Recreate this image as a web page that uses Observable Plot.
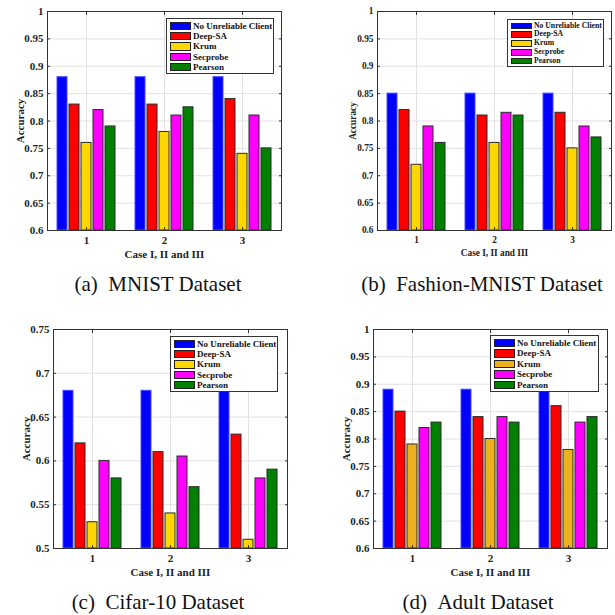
<!DOCTYPE html>
<html>
<head>
<meta charset="utf-8">
<script src="https://cdn.jsdelivr.net/npm/d3@7"></script>
<script src="https://cdn.jsdelivr.net/npm/@observablehq/plot@0.6"></script>
<style>
  html, body { margin: 0; padding: 0; background: #fff; }
  #root { position: relative; width: 615px; height: 615px; background: #fff; overflow: hidden; }
  .panel { position: absolute; }
  .legend { position: absolute; box-sizing: border-box; border: 1px solid #333; background: #fff;
            font-family: "Liberation Serif", "Times New Roman", serif; font-weight: bold; color: #111; }
  .legend .row { display: flex; align-items: center; }
  .legend .sw { box-sizing: border-box; border: 1px solid #222; flex: none; }
  .caption { position: absolute; width: 300px; text-align: center; white-space: pre;
             font-family: "Liberation Serif", "Times New Roman", serif; color: #111; }
</style>
</head>
<body>
<div id="root"></div>
<script>
// ---- data ----
const cases = [1, 2, 3];
const series = ["No Unreliable Client", "Deep-SA", "Krum", "Secprobe", "Pearson"];
const colorsDefault = ["#0000ff", "#ff0000", "#ffd700", "#ff00ff", "#008000"];
const colorsAdult = ["#0000ff", "#ff0000", "#edb120", "#ff00ff", "#008000"];

// rows follow `series`, columns follow `cases`
const mnistAcc = [
  [0.88, 0.88, 0.88],
  [0.83, 0.83, 0.84],
  [0.76, 0.78, 0.74],
  [0.82, 0.81, 0.81],
  [0.79, 0.825, 0.75]
];
const fashionAcc = [
  [0.85, 0.85, 0.85],
  [0.82, 0.81, 0.815],
  [0.72, 0.76, 0.75],
  [0.79, 0.815, 0.79],
  [0.76, 0.81, 0.77]
];
const cifarAcc = [
  [0.68, 0.68, 0.68],
  [0.62, 0.61, 0.63],
  [0.53, 0.54, 0.51],
  [0.60, 0.605, 0.58],
  [0.58, 0.57, 0.59]
];
const adultAcc = [
  [0.89, 0.89, 0.89],
  [0.85, 0.84, 0.86],
  [0.79, 0.80, 0.78],
  [0.82, 0.84, 0.83],
  [0.83, 0.83, 0.84]
];
const yTicksHigh = [0.6, 0.65, 0.7, 0.75, 0.8, 0.85, 0.9, 0.95, 1];
const yTicksLow = [0.5, 0.55, 0.6, 0.65, 0.7, 0.75];
const xTitle = "Case I, II and III";
const yTitle = "Accuracy";
const captions = ["(a)\u2002MNIST Dataset", "(b)\u2002Fashion-MNIST Dataset", "(c)\u2002Cifar-10 Dataset", "(d)\u2002Adult Dataset"];

function toRows(matrix) {
  const rows = [];
  series.forEach((s, i) => cases.forEach((c, j) => rows.push({series: s, case: c, value: matrix[i][j]})));
  return rows;
}

const root = document.getElementById("root");

function panel(cfg) {
  const data = toRows(cfg.values);
  const ymin = cfg.ticks[0], ymax = cfg.ticks[cfg.ticks.length - 1];
  const grid = "#e2e2e2";
  const chart = Plot.plot({
    width: cfg.width, height: cfg.height,
    marginLeft: cfg.ml, marginRight: cfg.mr, marginTop: cfg.mt, marginBottom: cfg.mb,
    style: {fontFamily: "'Liberation Serif', 'Times New Roman', serif", fontWeight: "bold", color: "#222", background: "transparent"},
    fx: {domain: cases, padding: 0},
    x: {domain: series, paddingInner: 0.17, paddingOuter: 0.83, axis: null},
    y: {domain: [ymin, ymax]},
    color: {domain: series, range: cfg.colors},
    marks: [
      Plot.gridY(cfg.ticks, {stroke: grid, strokeOpacity: 1}),
      Plot.gridFx({stroke: grid, strokeOpacity: 1}),
      Plot.barY(data, {fx: "case", x: "series", y1: ymin, y2: "value", fill: "series",
        stroke: d => d.series === series[0] ? "#4a4aff" : "#2a2a2a", strokeWidth: 1}),
      Plot.axisY(cfg.ticks, {anchor: "left", tickSize: 0, tickPadding: 4, fontSize: cfg.tickFont,
        tickFormat: d => String(d), label: yTitle, labelAnchor: "center", labelArrow: "none", labelOffset: cfg.yLabelOffset}),
      Plot.axisY(cfg.ticks, {anchor: "left", tickSize: -3, tickFormat: () => "", label: null, stroke: "#333"}),
      Plot.axisY(cfg.ticks, {anchor: "right", tickSize: -3, tickFormat: () => "", label: null, stroke: "#333"}),
      Plot.axisFx({anchor: "bottom", tickSize: 0, tickPadding: 6, fontSize: cfg.tickFont,
        label: xTitle, labelAnchor: "center", labelArrow: "none", labelOffset: cfg.xLabelOffset}),
      Plot.axisFx({anchor: "bottom", tickSize: -3, tickFormat: () => "", label: null, stroke: "#333"}),
      Plot.axisFx({anchor: "top", tickSize: -3, tickFormat: () => "", label: null, stroke: "#333"}),
      Plot.frame({facet: "super", stroke: "#333", strokeWidth: 1})
    ]
  });
  chart.querySelectorAll("[aria-label$='label'] text, [aria-label$='label']").forEach(el => {
    el.setAttribute("font-size", cfg.labelFont);
  });
  const wrap = document.createElement("div");
  wrap.className = "panel";
  wrap.style.left = cfg.left + "px";
  wrap.style.top = cfg.top + "px";
  wrap.appendChild(chart);
  root.appendChild(wrap);

  // legend
  const lg = document.createElement("div");
  lg.className = "legend";
  Object.assign(lg.style, {left: cfg.lg.left + "px", top: cfg.lg.top + "px", width: cfg.lg.w + "px",
    height: cfg.lg.h + "px", fontSize: cfg.lg.font + "px", paddingTop: cfg.lg.pt + "px", paddingLeft: "3px"});
  series.forEach((s, i) => {
    const row = document.createElement("div");
    row.className = "row";
    row.style.height = cfg.lg.row + "px";
    const sw = document.createElement("div");
    sw.className = "sw";
    Object.assign(sw.style, {width: cfg.lg.sw + "px", height: (cfg.lg.row - 2) + "px", background: cfg.colors[i], marginRight: "2px"});
    const t = document.createElement("span");
    t.textContent = s;
    t.style.lineHeight = cfg.lg.row + "px";
    row.appendChild(sw); row.appendChild(t);
    lg.appendChild(row);
  });
  root.appendChild(lg);

  const cap = document.createElement("div");
  cap.className = "caption";
  cap.textContent = cfg.caption;
  Object.assign(cap.style, {left: (cfg.capX - 150) + "px", top: cfg.capY + "px", fontSize: cfg.capFont + "px", lineHeight: cfg.capFont + "px"});
  root.appendChild(cap);
}

panel({values: mnistAcc, ticks: yTicksHigh, colors: colorsDefault, left: 0, top: 0, width: 307, height: 262,
  ml: 46, mr: 25, mt: 11, mb: 32, tickFont: 10, labelFont: 11, yLabelOffset: 31, xLabelOffset: 27,
  lg: {left: 166, top: 18, w: 108, h: 56, font: 9, row: 10.4, sw: 21, pt: 1.5},
  caption: captions[0], capX: 158, capY: 274, capFont: 21});
panel({values: fashionAcc, ticks: yTicksHigh, colors: colorsDefault, left: 307, top: 0, width: 308, height: 262,
  ml: 70, mr: 4, mt: 11, mb: 32, tickFont: 8.6, labelFont: 9.3, yLabelOffset: 28, xLabelOffset: 25,
  lg: {left: 507, top: 19, w: 97, h: 48, font: 7.7, row: 8.8, sw: 21, pt: 1.5},
  caption: captions[1], capX: 482, capY: 274, capFont: 21});
panel({values: cifarAcc, ticks: yTicksLow, colors: colorsDefault, left: 0, top: 300, width: 307, height: 280,
  ml: 52, mr: 20, mt: 29, mb: 32, tickFont: 10, labelFont: 11, yLabelOffset: 31, xLabelOffset: 27,
  lg: {left: 170, top: 336, w: 108, h: 56, font: 9, row: 10.4, sw: 21, pt: 1.5},
  caption: captions[2], capX: 158, capY: 592, capFont: 21});
panel({values: adultAcc, ticks: yTicksHigh, colors: colorsAdult, left: 307, top: 300, width: 308, height: 280,
  ml: 65, mr: 8, mt: 29, mb: 32, tickFont: 10, labelFont: 11, yLabelOffset: 31, xLabelOffset: 27,
  lg: {left: 490, top: 335, w: 109, h: 57, font: 9, row: 10.6, sw: 21, pt: 1.5},
  caption: captions[3], capX: 478, capY: 592, capFont: 21});
</script>
</body>
</html>
